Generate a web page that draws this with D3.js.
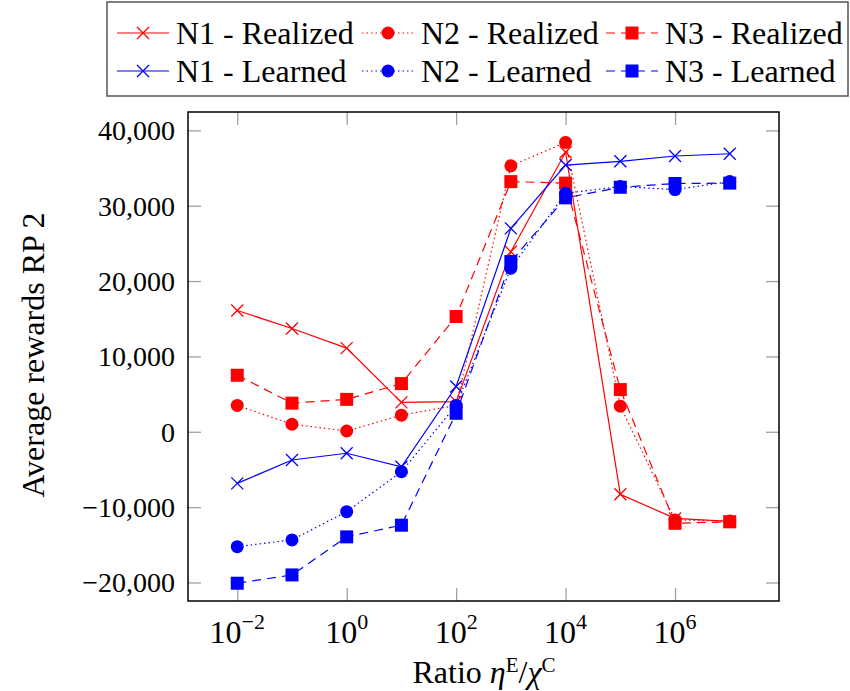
<!DOCTYPE html>
<html>
<head>
<meta charset="utf-8">
<script src="https://cdn.jsdelivr.net/npm/d3@7"></script>
</head>
<body style="margin:0">
<div id="chart"></div>
<script>
// x values (ratio eta/chi), log scale
const ratios = [1e-2, 1e-1, 1e0, 1e1, 1e2, 1e3, 1e4, 1e5, 1e6, 1e7];

const n1Realized = [16100, 13700, 11100, 3900, 4000, 23900, 37100, -8300, -11500, -11900];
const n2Realized = [3500, 1000, 100, 2200, 3500, 35300, 38400, 3400, -11700, -11850];
const n3Realized = [7500, 3800, 4300, 6400, 15300, 33200, 33000, 5600, -12150, -11950];
const n1Learned = [-6850, -3750, -2850, -4650, 6000, 27000, 35400, 35900, 36600, 36900];
const n2Learned = [-15250, -14350, -10600, -5300, 3500, 21700, 31650, 32550, 32150, 33200];
const n3Learned = [-20100, -19000, -13950, -12400, 2450, 22600, 31050, 32450, 32950, 33000];

const xTickValues = [1e-2, 1e0, 1e2, 1e4, 1e6];
const xTickExponents = ['\u22122', '0', '2', '4', '6'];
const yTickValues = [-20000, -10000, 0, 10000, 20000, 30000, 40000];

const series = [
    { name: 'N1 - Realized', values: n1Realized, color: '#ff0000', dash: null, marker: 'x' },
    { name: 'N2 - Realized', values: n2Realized, color: '#ff0000', dash: '1.5,3', marker: 'circle' },
    { name: 'N3 - Realized', values: n3Realized, color: '#ff0000', dash: '9,6', marker: 'square' },
    { name: 'N1 - Learned', values: n1Learned, color: '#0000ff', dash: null, marker: 'x' },
    { name: 'N2 - Learned', values: n2Learned, color: '#0000ff', dash: '1.5,3', marker: 'circle' },
    { name: 'N3 - Learned', values: n3Learned, color: '#0000ff', dash: '9,6', marker: 'square' }
];

const FONT = "'Liberation Serif'";

const width = 850;
const height = 691;
const plot = { left: 188, right: 779, top: 112, bottom: 601 };

const svg = d3.select('#chart')
    .append('svg')
    .attr('width', width)
    .attr('height', height)
    .style('display', 'block');

const x = d3.scaleLog()
    .domain([Math.pow(10, -2.9), Math.pow(10, 7.9)])
    .range([plot.left, plot.right]);

const y = d3.scaleLinear()
    .domain([-22460, 42440])
    .range([plot.bottom, plot.top]);

// Ticks (inside the frame, gray)
const tickLen = 13;
const tickColor = '#a0a0a0';

const yAxis = svg.append('g')
    .attr('transform', `translate(${plot.left},0)`)
    .call(d3.axisLeft(y).tickValues(yTickValues).tickSize(-tickLen).tickPadding(13).tickFormat(d3.format(',')));
yAxis.select('.domain').remove();
yAxis.selectAll('line').attr('stroke', tickColor).attr('stroke-width', 1.3);
yAxis.selectAll('text')
    .attr('dy', '0.34em')
    .style('font-size', '28px');

const yAxisRight = svg.append('g')
    .attr('transform', `translate(${plot.right},0)`)
    .call(d3.axisRight(y).tickValues(yTickValues).tickSize(-tickLen).tickFormat(''));
yAxisRight.select('.domain').remove();
yAxisRight.selectAll('line').attr('stroke', tickColor).attr('stroke-width', 1.3);

const xAxis = svg.append('g')
    .attr('transform', `translate(0,${plot.bottom})`)
    .call(d3.axisBottom(x).tickValues(xTickValues).tickSize(-tickLen).tickFormat(''));
xAxis.select('.domain').remove();
xAxis.selectAll('line').attr('stroke', tickColor).attr('stroke-width', 1.3);

const xAxisTop = svg.append('g')
    .attr('transform', `translate(0,${plot.top})`)
    .call(d3.axisTop(x).tickValues(xTickValues).tickSize(-tickLen).tickFormat(''));
xAxisTop.select('.domain').remove();
xAxisTop.selectAll('line').attr('stroke', tickColor).attr('stroke-width', 1.3);

// x tick labels with superscripts
const xLabels = svg.append('g')
    .selectAll('text')
    .data(xTickValues)
    .enter()
    .append('text')
    .attr('x', d => x(d))
    .attr('y', 643)
    .attr('text-anchor', 'middle')
    .style('font-size', '32px');
xLabels.append('tspan').text('10');
xLabels.append('tspan')
    .attr('dy', -14)
    .style('font-size', '22px')
    .text((d, i) => xTickExponents[i]);

// Frame
svg.append('rect')
    .attr('x', plot.left)
    .attr('y', plot.top)
    .attr('width', plot.right - plot.left)
    .attr('height', plot.bottom - plot.top)
    .attr('fill', 'none')
    .attr('stroke', '#000')
    .attr('stroke-width', 1.5);

// Markers
function drawMarker(g, type, cx, cy, color) {
    if (type === 'x') {
        const s = 6;
        g.append('path')
            .attr('d', `M${cx - s},${cy - s}L${cx + s},${cy + s}M${cx - s},${cy + s}L${cx + s},${cy - s}`)
            .attr('stroke', color)
            .attr('stroke-width', 1.3)
            .attr('fill', 'none');
    } else if (type === 'circle') {
        g.append('circle')
            .attr('cx', cx)
            .attr('cy', cy)
            .attr('r', 6.5)
            .attr('fill', color);
    } else {
        g.append('rect')
            .attr('x', cx - 6.5)
            .attr('y', cy - 6.5)
            .attr('width', 13)
            .attr('height', 13)
            .attr('fill', color);
    }
}

const line = d3.line()
    .x((d, i) => x(ratios[i]))
    .y(d => y(d));

series.forEach(s => {
    const g = svg.append('g');
    g.append('path')
        .datum(s.values)
        .attr('d', line)
        .attr('fill', 'none')
        .attr('stroke', s.color)
        .attr('stroke-width', 1.2)
        .attr('stroke-dasharray', s.dash);
    s.values.forEach((v, i) => drawMarker(g, s.marker, x(ratios[i]), y(v), s.color));
});

// Axis titles
const xTitle = svg.append('text')
    .attr('x', 484)
    .attr('y', 683)
    .attr('text-anchor', 'middle')
    .style('font-size', '32px');
xTitle.append('tspan').text('Ratio ');
xTitle.append('tspan').style('font-style', 'italic').text('\u03b7');
xTitle.append('tspan').attr('dy', -11).style('font-size', '21px').text('E');
xTitle.append('tspan').attr('dy', 11).text('/');
xTitle.append('tspan').style('font-style', 'italic').text('\u03c7');
xTitle.append('tspan').attr('dy', -11).style('font-size', '21px').text('C');

svg.append('text')
    .attr('transform', 'translate(44,355) rotate(-90)')
    .attr('text-anchor', 'middle')
    .style('font-size', '32px')
    .text('Average rewards RP 2');

// Legend
const legend = svg.append('g');
legend.append('rect')
    .attr('x', 107)
    .attr('y', 2)
    .attr('width', 741)
    .attr('height', 94)
    .attr('fill', '#fff')
    .attr('stroke', '#555')
    .attr('stroke-width', 1.5);

const legendCols = [117, 362, 606];
const legendRows = [33, 71];
series.forEach((s, i) => {
    const col = i % 3;
    const row = Math.floor(i / 3);
    const lx = legendCols[col];
    const ly = legendRows[row];
    const g = legend.append('g');
    g.append('line')
        .attr('x1', lx)
        .attr('x2', lx + 52)
        .attr('y1', ly)
        .attr('y2', ly)
        .attr('stroke', s.color)
        .attr('stroke-width', 1.2)
        .attr('stroke-dasharray', s.dash);
    drawMarker(g, s.marker, lx + 26, ly, s.color);
    g.append('text')
        .attr('x', lx + 59)
        .attr('y', ly + 11)
        .style('font-size', '32px')
        .text(s.name);
});

// Serif font on every text and tspan
svg.selectAll('text, tspan').style('font-family', FONT, 'important').style('fill', '#000');
</script>
</body>
</html>
